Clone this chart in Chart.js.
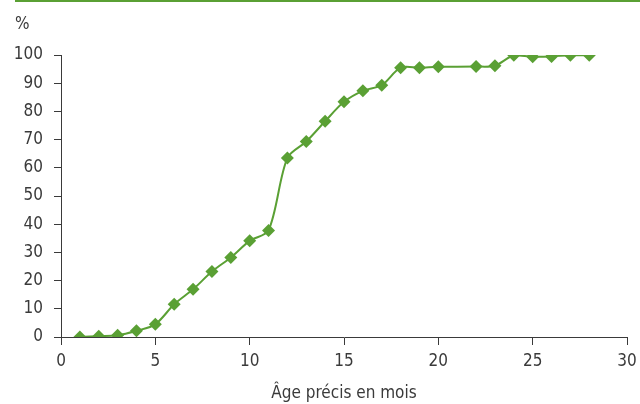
<!DOCTYPE html>
<html>
<head>
<meta charset="utf-8">
<script src="https://cdn.jsdelivr.net/npm/chart.js@4/dist/chart.umd.min.js"></script>
<style>
  body { margin: 0; background: #fff; }
  #wrap { position: relative; width: 640px; height: 404px; }
  #rule { position: absolute; left: 15px; right: 0; top: 0; border-top: 2px solid #5aa034; }
</style>
</head>
<body>
<div id="wrap">
  <div id="rule"></div>
  <canvas id="chart" width="640" height="404"></canvas>
</div>
<script>
'use strict';
//data
let ages = [1, 2, 3, 4, 5, 6, 7, 8, 9, 10, 11, 12, 13, 14, 15, 16, 17, 18, 19, 20, 22, 23, 24, 25, 26, 27, 28];
let percents = [0, 0.3, 0.6, 2.2, 4.5, 11.6, 16.9, 23.2, 28.2, 34.1, 37.8, 63.5, 69.3, 76.5, 83.4, 87.3, 89.3, 95.5, 95.5, 95.8, 95.9, 96.2, 99.9, 99.4, 99.5, 99.9, 99.9];
let xTicks = [0, 5, 10, 15, 20, 25, 30];
let yTicks = [0, 10, 20, 30, 40, 50, 60, 70, 80, 90, 100];
let xTitle = 'Âge précis en mois';
let yUnit = '%';

let green = '#5aa034';
let ink = '#3a3a3a';
let fontFamily = '"DejaVu Sans Condensed", "DejaVu Sans", sans-serif';

//build points from the arrays
function getPoints(){
  let pts = [];
  for (let i = 0; i < ages.length; i++){
    pts.push({x: ages[i], y: percents[i]});
  }
  return pts;
}

//draws the unit label above the y axis
let unitLabel = {
  id: 'unitLabel',
  afterDraw(chart){
    let ctx = chart.ctx;
    ctx.save();
    ctx.fillStyle = ink;
    ctx.font = '17px ' + fontFamily;
    ctx.textAlign = 'left';
    ctx.textBaseline = 'middle';
    ctx.fillText(yUnit, 15, chart.chartArea.top - 30);
    ctx.restore();
  }
};

let ctx = document.getElementById('chart').getContext('2d');
new Chart(ctx, {
  type: 'line',
  data: {
    datasets: [{
      data: getPoints(),
      borderColor: green,
      backgroundColor: green,
      borderWidth: 2,
      tension: 0.3,
      pointStyle: 'rectRot',
      pointRadius: 6.5,
      pointBorderWidth: 0,
      fill: false
    }]
  },
  options: {
    responsive: false,
    animation: false,
    layout: { padding: { top: 55, right: 13, left: 0, bottom: 0 } },
    plugins: {
      legend: { display: false },
      tooltip: { enabled: false }
    },
    scales: {
      x: {
        type: 'linear',
        min: 0,
        max: 30,
        afterBuildTicks(axis){ axis.ticks = xTicks.map(v => ({value: v})); },
        afterFit(axis){ axis.height = 67; axis.paddingRight = 0; axis.paddingLeft = 0; },
        grid: { drawOnChartArea: false, drawTicks: true, tickLength: 8, color: ink },
        border: { color: ink, width: 1 },
        ticks: { color: ink, font: { family: fontFamily, size: 17 }, padding: 6, maxRotation: 0 },
        title: { display: true, text: xTitle, color: ink, font: { family: fontFamily, size: 17 }, padding: { top: 0, bottom: 0 } }
      },
      y: {
        min: 0,
        max: 100,
        afterBuildTicks(axis){ axis.ticks = yTicks.map(v => ({value: v})); },
        afterFit(axis){ axis.width = 61; },
        grid: { drawOnChartArea: false, drawTicks: true, tickLength: 7, color: ink },
        border: { color: ink, width: 1 },
        ticks: { color: ink, font: { family: fontFamily, size: 17 }, padding: 11 }
      }
    }
  },
  plugins: [unitLabel]
});
</script>
</body>
</html>
